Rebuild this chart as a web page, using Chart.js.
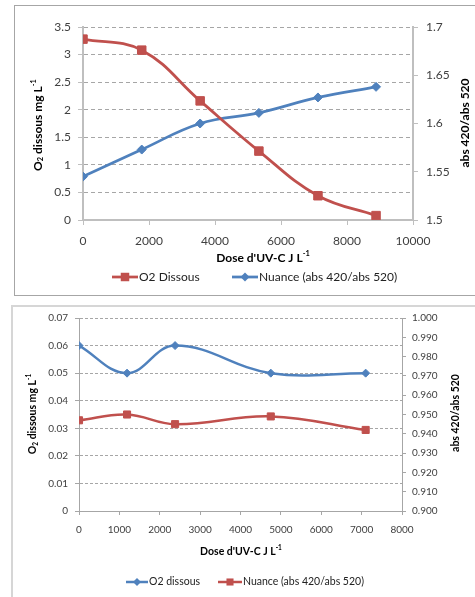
<!DOCTYPE html>
<html lang="fr">
<head>
<meta charset="utf-8" />
<title>O2 dissous et nuance selon la dose d'UV-C</title>
<style>
  * { margin: 0; padding: 0; }
  body { width: 475px; height: 597px; position: relative; overflow: hidden; background: #fff; }
  .frame { position: absolute; background: #fff; }
  #frame1 { left: 14px; top: 5px; width: 480px; height: 289px; border: 1px solid #a6a6a6; }
  #frame2 { left: 11px; top: 305px; width: 480px; height: 310px; border: 2px solid #d6d6d6; }
  canvas { position: absolute; left: 0; }
  #chart1 { top: 0; }
  #chart2 { top: 300px; }
</style>
</head>
<body>
<div class="frame" id="frame1"></div>
<div class="frame" id="frame2"></div>
<canvas id="chart1" width="475" height="300"></canvas>
<canvas id="chart2" width="475" height="297"></canvas>

<script src="https://cdn.jsdelivr.net/npm/chart.js"></script>
<script>
  // top chart data
  const dose1 = [0, 1780, 3550, 5330, 7120, 8880];
  const o2Dissous1 = [3.28, 3.08, 2.16, 1.25, 0.44, 0.08];
  const nuance1 = [1.545, 1.573, 1.6, 1.611, 1.627, 1.638];

  // bottom chart data
  const dose2 = [0, 1190, 2380, 4750, 7100];
  const o2Dissous2 = [0.06, 0.05, 0.06, 0.05, 0.05];
  const nuance2 = [0.947, 0.95, 0.945, 0.949, 0.942];

  const RED = "#c0504d";
  const BLUE = "#4f81bd";
  const FONT = "Lato, 'Open Sans', sans-serif";
  const TXT = "#404040";

  const pts = (xs, ys) => xs.map((x, i) => ({ x: x, y: ys[i] }));
  const plain = (v) => String(+v.toFixed(3));

  // draw a string made of runs (normal / sub / sup), centred at x,y
  function drawRuns(ctx, runs, x, y, size, rotate) {
    const small = size * 0.62;
    ctx.save();
    ctx.translate(x, y);
    if (rotate) ctx.rotate(-Math.PI / 2);
    ctx.textBaseline = "middle";
    ctx.textAlign = "left";
    let w = 0;
    for (const [txt, mode] of runs) {
      ctx.font = `bold ${mode ? small : size}px ${FONT}`;
      w += ctx.measureText(txt).width;
    }
    let cx = -w / 2;
    for (const [txt, mode] of runs) {
      ctx.font = `bold ${mode ? small : size}px ${FONT}`;
      const dy = mode === "sup" ? -size * 0.38 : mode === "sub" ? size * 0.25 : 0;
      ctx.fillText(txt, cx, dy);
      cx += ctx.measureText(txt).width;
    }
    ctx.restore();
  }

  function marker(ctx, style, x, y, r, color) {
    ctx.fillStyle = color;
    ctx.beginPath();
    if (style === "rect") {
      const s = r * Math.SQRT1_2;
      ctx.rect(x - s, y - s, 2 * s, 2 * s);
    } else {
      ctx.moveTo(x - r, y);
      ctx.lineTo(x, y - r);
      ctx.lineTo(x + r, y);
      ctx.lineTo(x, y + r);
      ctx.closePath();
    }
    ctx.fill();
  }

  // axis titles + excel-like legend
  const excelText = {
    id: "excelText",
    afterDraw(chart, args, opts) {
      const ctx = chart.ctx;
      ctx.save();
      ctx.fillStyle = "#000";
      for (const t of opts.titles) {
        drawRuns(ctx, t.runs, t.x, t.y, t.size, t.rotate);
      }
      chart.data.datasets.forEach((ds, i) => {
        const it = opts.legend[i];
        const y = opts.legendY;
        ctx.strokeStyle = ds.borderColor;
        ctx.lineWidth = ds.borderWidth;
        ctx.beginPath();
        ctx.moveTo(it.x0, y);
        ctx.lineTo(it.x1, y);
        ctx.stroke();
        marker(ctx, ds.pointStyle, (it.x0 + it.x1) / 2, y, ds.pointRadius, ds.borderColor);
        ctx.fillStyle = "#222";
        ctx.font = `${opts.legendSize}px ${FONT}`;
        ctx.textAlign = "left";
        ctx.textBaseline = "middle";
        ctx.fillText(ds.label, it.x1 + 1, y);
      });
      ctx.restore();
    },
  };

  const yTitleRuns = [["O"], ["2", "sub"], [" dissous mg L"], ["-1", "sup"]];
  const xTitleRuns = [["Dose d'UV-C J L"], ["-1", "sup"]];
  const y1TitleRuns = [["abs 420/abs 520"]];

  // top chart
  new Chart(document.getElementById("chart1"), {
    type: "line",
    data: {
      datasets: [
        {
          label: "O2 Dissous",
          data: pts(dose1, o2Dissous1),
          yAxisID: "y",
          borderColor: RED,
          backgroundColor: RED,
          borderWidth: 2.75,
          pointStyle: "rect",
          pointRadius: 6,
          pointBorderWidth: 1,
          tension: 0.4,
        },
        {
          label: "Nuance (abs 420/abs 520)",
          data: pts(dose1, nuance1),
          yAxisID: "y1",
          borderColor: BLUE,
          backgroundColor: BLUE,
          borderWidth: 2.75,
          pointStyle: "rectRot",
          pointRadius: 4.5,
          pointBorderWidth: 1,
          tension: 0.4,
        },
      ],
    },
    options: {
      responsive: false,
      animation: false,
      devicePixelRatio: 1,
      layout: { padding: { top: 27, left: 0, right: 0, bottom: 0 } },
      plugins: {
        legend: { display: false },
        tooltip: { enabled: false },
        excelText: {
          titles: [
            { runs: xTitleRuns, x: 263, y: 258, size: 12 },
            { runs: yTitleRuns, x: 38, y: 125, size: 12, rotate: true },
            { runs: y1TitleRuns, x: 465, y: 123, size: 12, rotate: true },
          ],
          legendY: 277,
          legendSize: 12,
          legend: [
            { x0: 112, x1: 138 },
            { x0: 232, x1: 258 },
          ],
        },
      },
      scales: {
        x: {
          type: "linear",
          min: 0,
          max: 10000,
          ticks: { stepSize: 2000, padding: 9, color: TXT, font: { family: FONT, size: 12 }, maxRotation: 0, callback: plain },
          grid: { drawOnChartArea: false, tickColor: "#bfbfbf", tickLength: 5 },
          border: { color: "#bfbfbf", width: 2 },
          afterFit: (s) => { s.height = 80; },
        },
        y: {
          min: 0,
          max: 3.5,
          ticks: { stepSize: 0.5, padding: 7, color: TXT, font: { family: FONT, size: 12 }, callback: plain },
          grid: { color: "#a6a6a6", tickColor: "#bfbfbf", tickLength: 5 },
          border: { color: "#bfbfbf", width: 2, dash: [4, 3] },
          afterFit: (s) => { s.width = 83; },
        },
        y1: {
          position: "right",
          min: 1.5,
          max: 1.7,
          ticks: { stepSize: 0.05, padding: 8, color: TXT, font: { family: FONT, size: 12 }, callback: plain },
          grid: { drawOnChartArea: false, tickColor: "#bfbfbf", tickLength: 5 },
          border: { color: "#bfbfbf", width: 2 },
          afterFit: (s) => { s.width = 62; },
        },
      },
    },
    plugins: [excelText],
  });

  // bottom chart
  new Chart(document.getElementById("chart2"), {
    type: "line",
    data: {
      datasets: [
        {
          label: "O2 dissous",
          data: pts(dose2, o2Dissous2),
          yAxisID: "y",
          borderColor: BLUE,
          backgroundColor: BLUE,
          borderWidth: 2.5,
          pointStyle: "rectRot",
          pointRadius: 4,
          pointBorderWidth: 1,
          tension: 0.4,
        },
        {
          label: "Nuance (abs 420/abs 520)",
          data: pts(dose2, nuance2),
          yAxisID: "y1",
          borderColor: RED,
          backgroundColor: RED,
          borderWidth: 2.5,
          pointStyle: "rect",
          pointRadius: 5,
          pointBorderWidth: 1,
          tension: 0.4,
        },
      ],
    },
    options: {
      responsive: false,
      animation: false,
      devicePixelRatio: 1,
      layout: { padding: { top: 18, left: 0, right: 0, bottom: 0 } },
      plugins: {
        legend: { display: false },
        tooltip: { enabled: false },
        excelText: {
          titles: [
            { runs: xTitleRuns, x: 241, y: 252, size: 10.5 },
            { runs: yTitleRuns, x: 33, y: 114, size: 10.5, rotate: true },
            { runs: y1TitleRuns, x: 456, y: 113, size: 10.5, rotate: true },
          ],
          legendY: 282,
          legendSize: 10.5,
          legend: [
            { x0: 126, x1: 148 },
            { x0: 218, x1: 242 },
          ],
        },
      },
      scales: {
        x: {
          type: "linear",
          min: 0,
          max: 8000,
          ticks: { stepSize: 1000, padding: 9, color: TXT, font: { family: FONT, size: 10 }, maxRotation: 0, callback: plain },
          grid: { drawOnChartArea: false, tickColor: "#a6a6a6", tickLength: 4 },
          border: { color: "#a6a6a6", width: 1 },
          afterFit: (s) => { s.height = 86; },
        },
        y: {
          min: 0,
          max: 0.07,
          ticks: {
            stepSize: 0.01,
            padding: 7,
            color: TXT,
            font: { family: FONT, size: 10 },
            callback: (v) => (v === 0 ? "0" : v.toFixed(2)),
          },
          grid: { color: "#a6a6a6", tickColor: "#a6a6a6", tickLength: 4 },
          border: { color: "#a6a6a6", width: 1, dash: [3, 2] },
          afterFit: (s) => { s.width = 79; },
        },
        y1: {
          position: "right",
          min: 0.9,
          max: 1.0,
          ticks: {
            stepSize: 0.01,
            padding: 6,
            color: TXT,
            font: { family: FONT, size: 10 },
            callback: (v) => v.toFixed(3),
          },
          grid: { drawOnChartArea: false, tickColor: "#a6a6a6", tickLength: 4 },
          border: { color: "#a6a6a6", width: 1 },
          afterFit: (s) => { s.width = 73; },
        },
      },
    },
    plugins: [excelText],
  });
</script>
</body>
</html>
